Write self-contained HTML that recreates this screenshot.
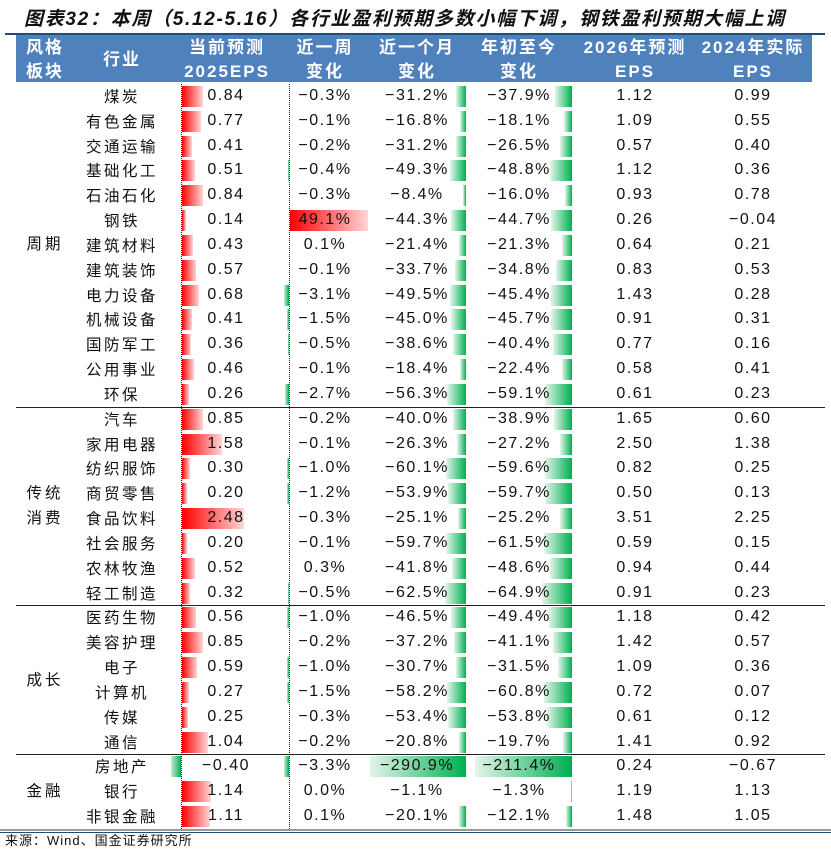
<!DOCTYPE html>
<html><head><meta charset="utf-8">
<style>
body{margin:0;background:#fff;}
#w{position:relative;width:831px;height:853px;overflow:hidden;background:#fff;font-family:"Liberation Sans","Noto Sans CJK SC",sans-serif;color:#111;}
.t{position:absolute;left:24px;top:4px;font-size:19px;font-weight:bold;font-style:italic;letter-spacing:1.7px;white-space:nowrap;}
.tl{position:absolute;left:5px;top:33px;width:820px;height:2px;background:#1f4e79;}
.hd{position:absolute;left:16px;top:35px;width:796px;height:47px;background:#4f81bd;}
.h{position:absolute;color:#fff;font-weight:bold;font-size:17px;line-height:20px;text-align:center;width:140px;letter-spacing:2px;white-space:nowrap;font-family:"Liberation Sans","Noto Sans CJK SC",sans-serif;}
#rows{position:absolute;left:0;top:84px;width:831px;}
.r{position:relative;height:24.83px;}
.r i{position:absolute;top:2px;height:21px;display:block;}
.be{left:182px;width:calc(var(--e)*25px);background:linear-gradient(to right,#ff0000,#ffd6d6);}
.ben{left:171px;width:10px;background:linear-gradient(to right,#c8ecd5,#00b050);}
.bw{right:calc(831px - 289px);width:calc(var(--w)*1.59px);background:linear-gradient(to right,#c8ecd5,#00b050);}
.bwp{left:290px;width:calc(var(--w)*1.59px);background:linear-gradient(to right,#ff0000,#ffd6d6);}
.bm{right:calc(831px - 466px);width:calc(var(--m)*0.33px);background:linear-gradient(to right,#e3f5ea,#00b050);}
.by{right:calc(831px - 572px);width:calc(var(--y)*0.46px);background:linear-gradient(to right,#e3f5ea,#00b050);}
.r span{position:absolute;top:0;line-height:24.83px;font-size:16px;text-align:center;width:120px;white-space:nowrap;letter-spacing:1.5px;}
.r .n{left:62px;font-family:"Noto Sans CJK SC",sans-serif;font-size:15.5px;letter-spacing:2.5px;}
.c1{left:166px}.c2{left:265px}.c3{left:357px}.c4{left:459px}.c5{left:575px}.c6{left:693px}
.dv{position:absolute;top:84px;height:745px;border-left:1px dotted #222;}
.sep{position:absolute;left:16px;width:809px;height:1px;background:#222;}
.st{position:absolute;font-family:"Noto Sans CJK SC",sans-serif;font-size:15.5px;letter-spacing:3px;width:60px;text-align:center;left:15px;}
.src{position:absolute;left:5px;top:830px;font-size:13px;font-family:"Liberation Sans","Noto Sans CJK SC",sans-serif;letter-spacing:1px;}
</style></head><body><div id="w">
<div class="t">图表32：本周（5.12-5.16）各行业盈利预期多数小幅下调，钢铁盈利预期大幅上调</div>
<div class="tl"></div>
<div class="hd"></div>
<div class="h" style="left:-25px;top:38px">风格</div>
<div class="h" style="left:-25px;top:62px">板块</div>
<div class="h" style="left:52px;top:50px">行业</div>
<div class="h" style="left:157px;top:38px">当前预测</div>
<div class="h" style="left:157px;top:62px">2025EPS</div>
<div class="h" style="left:255px;top:38px">近一周</div>
<div class="h" style="left:255px;top:62px">变化</div>
<div class="h" style="left:347px;top:38px">近一个月</div>
<div class="h" style="left:347px;top:62px">变化</div>
<div class="h" style="left:449px;top:38px">年初至今</div>
<div class="h" style="left:449px;top:62px">变化</div>
<div class="h" style="left:565px;top:38px">2026年预测</div>
<div class="h" style="left:565px;top:62px">EPS</div>
<div class="h" style="left:683px;top:38px">2024年实际</div>
<div class="h" style="left:683px;top:62px">EPS</div>

<div id="rows">
<div class="r" style="--e:.84;--w:.3;--m:31.2;--y:37.9"><i class="be"></i><i class="bw"></i><i class="bm"></i><i class="by"></i><span class="n">煤炭</span><span class="c1">0.84</span><span class="c2">−0.3%</span><span class="c3">−31.2%</span><span class="c4">−37.9%</span><span class="c5">1.12</span><span class="c6">0.99</span></div>
<div class="r" style="--e:.77;--w:.1;--m:16.8;--y:18.1"><i class="be"></i><i class="bw"></i><i class="bm"></i><i class="by"></i><span class="n">有色金属</span><span class="c1">0.77</span><span class="c2">−0.1%</span><span class="c3">−16.8%</span><span class="c4">−18.1%</span><span class="c5">1.09</span><span class="c6">0.55</span></div>
<div class="r" style="--e:.41;--w:.2;--m:31.2;--y:26.5"><i class="be"></i><i class="bw"></i><i class="bm"></i><i class="by"></i><span class="n">交通运输</span><span class="c1">0.41</span><span class="c2">−0.2%</span><span class="c3">−31.2%</span><span class="c4">−26.5%</span><span class="c5">0.57</span><span class="c6">0.40</span></div>
<div class="r" style="--e:.51;--w:.4;--m:49.3;--y:48.8"><i class="be"></i><i class="bw"></i><i class="bm"></i><i class="by"></i><span class="n">基础化工</span><span class="c1">0.51</span><span class="c2">−0.4%</span><span class="c3">−49.3%</span><span class="c4">−48.8%</span><span class="c5">1.12</span><span class="c6">0.36</span></div>
<div class="r" style="--e:.84;--w:.3;--m:8.4;--y:16.0"><i class="be"></i><i class="bw"></i><i class="bm"></i><i class="by"></i><span class="n">石油石化</span><span class="c1">0.84</span><span class="c2">−0.3%</span><span class="c3">−8.4%</span><span class="c4">−16.0%</span><span class="c5">0.93</span><span class="c6">0.78</span></div>
<div class="r" style="--e:.14;--w:49.1;--m:44.3;--y:44.7"><i class="be"></i><i class="bwp"></i><i class="bm"></i><i class="by"></i><span class="n">钢铁</span><span class="c1">0.14</span><span class="c2">49.1%</span><span class="c3">−44.3%</span><span class="c4">−44.7%</span><span class="c5">0.26</span><span class="c6">−0.04</span></div>
<div class="r" style="--e:.43;--w:.1;--m:21.4;--y:21.3"><i class="be"></i><i class="bwp"></i><i class="bm"></i><i class="by"></i><span class="n">建筑材料</span><span class="c1">0.43</span><span class="c2">0.1%</span><span class="c3">−21.4%</span><span class="c4">−21.3%</span><span class="c5">0.64</span><span class="c6">0.21</span></div>
<div class="r" style="--e:.57;--w:.1;--m:33.7;--y:34.8"><i class="be"></i><i class="bw"></i><i class="bm"></i><i class="by"></i><span class="n">建筑装饰</span><span class="c1">0.57</span><span class="c2">−0.1%</span><span class="c3">−33.7%</span><span class="c4">−34.8%</span><span class="c5">0.83</span><span class="c6">0.53</span></div>
<div class="r" style="--e:.68;--w:3.1;--m:49.5;--y:45.4"><i class="be"></i><i class="bw"></i><i class="bm"></i><i class="by"></i><span class="n">电力设备</span><span class="c1">0.68</span><span class="c2">−3.1%</span><span class="c3">−49.5%</span><span class="c4">−45.4%</span><span class="c5">1.43</span><span class="c6">0.28</span></div>
<div class="r" style="--e:.41;--w:1.5;--m:45.0;--y:45.7"><i class="be"></i><i class="bw"></i><i class="bm"></i><i class="by"></i><span class="n">机械设备</span><span class="c1">0.41</span><span class="c2">−1.5%</span><span class="c3">−45.0%</span><span class="c4">−45.7%</span><span class="c5">0.91</span><span class="c6">0.31</span></div>
<div class="r" style="--e:.36;--w:.5;--m:38.6;--y:40.4"><i class="be"></i><i class="bw"></i><i class="bm"></i><i class="by"></i><span class="n">国防军工</span><span class="c1">0.36</span><span class="c2">−0.5%</span><span class="c3">−38.6%</span><span class="c4">−40.4%</span><span class="c5">0.77</span><span class="c6">0.16</span></div>
<div class="r" style="--e:.46;--w:.1;--m:18.4;--y:22.4"><i class="be"></i><i class="bw"></i><i class="bm"></i><i class="by"></i><span class="n">公用事业</span><span class="c1">0.46</span><span class="c2">−0.1%</span><span class="c3">−18.4%</span><span class="c4">−22.4%</span><span class="c5">0.58</span><span class="c6">0.41</span></div>
<div class="r" style="--e:.26;--w:2.7;--m:56.3;--y:59.1"><i class="be"></i><i class="bw"></i><i class="bm"></i><i class="by"></i><span class="n">环保</span><span class="c1">0.26</span><span class="c2">−2.7%</span><span class="c3">−56.3%</span><span class="c4">−59.1%</span><span class="c5">0.61</span><span class="c6">0.23</span></div>
<div class="r" style="--e:.85;--w:.2;--m:40.0;--y:38.9"><i class="be"></i><i class="bw"></i><i class="bm"></i><i class="by"></i><span class="n">汽车</span><span class="c1">0.85</span><span class="c2">−0.2%</span><span class="c3">−40.0%</span><span class="c4">−38.9%</span><span class="c5">1.65</span><span class="c6">0.60</span></div>
<div class="r" style="--e:1.58;--w:.1;--m:26.3;--y:27.2"><i class="be"></i><i class="bw"></i><i class="bm"></i><i class="by"></i><span class="n">家用电器</span><span class="c1">1.58</span><span class="c2">−0.1%</span><span class="c3">−26.3%</span><span class="c4">−27.2%</span><span class="c5">2.50</span><span class="c6">1.38</span></div>
<div class="r" style="--e:.30;--w:1.0;--m:60.1;--y:59.6"><i class="be"></i><i class="bw"></i><i class="bm"></i><i class="by"></i><span class="n">纺织服饰</span><span class="c1">0.30</span><span class="c2">−1.0%</span><span class="c3">−60.1%</span><span class="c4">−59.6%</span><span class="c5">0.82</span><span class="c6">0.25</span></div>
<div class="r" style="--e:.20;--w:1.2;--m:53.9;--y:59.7"><i class="be"></i><i class="bw"></i><i class="bm"></i><i class="by"></i><span class="n">商贸零售</span><span class="c1">0.20</span><span class="c2">−1.2%</span><span class="c3">−53.9%</span><span class="c4">−59.7%</span><span class="c5">0.50</span><span class="c6">0.13</span></div>
<div class="r" style="--e:2.48;--w:.3;--m:25.1;--y:25.2"><i class="be"></i><i class="bw"></i><i class="bm"></i><i class="by"></i><span class="n">食品饮料</span><span class="c1">2.48</span><span class="c2">−0.3%</span><span class="c3">−25.1%</span><span class="c4">−25.2%</span><span class="c5">3.51</span><span class="c6">2.25</span></div>
<div class="r" style="--e:.20;--w:.1;--m:59.7;--y:61.5"><i class="be"></i><i class="bw"></i><i class="bm"></i><i class="by"></i><span class="n">社会服务</span><span class="c1">0.20</span><span class="c2">−0.1%</span><span class="c3">−59.7%</span><span class="c4">−61.5%</span><span class="c5">0.59</span><span class="c6">0.15</span></div>
<div class="r" style="--e:.52;--w:.3;--m:41.8;--y:48.6"><i class="be"></i><i class="bwp"></i><i class="bm"></i><i class="by"></i><span class="n">农林牧渔</span><span class="c1">0.52</span><span class="c2">0.3%</span><span class="c3">−41.8%</span><span class="c4">−48.6%</span><span class="c5">0.94</span><span class="c6">0.44</span></div>
<div class="r" style="--e:.32;--w:.5;--m:62.5;--y:64.9"><i class="be"></i><i class="bw"></i><i class="bm"></i><i class="by"></i><span class="n">轻工制造</span><span class="c1">0.32</span><span class="c2">−0.5%</span><span class="c3">−62.5%</span><span class="c4">−64.9%</span><span class="c5">0.91</span><span class="c6">0.23</span></div>
<div class="r" style="--e:.56;--w:1.0;--m:46.5;--y:49.4"><i class="be"></i><i class="bw"></i><i class="bm"></i><i class="by"></i><span class="n">医药生物</span><span class="c1">0.56</span><span class="c2">−1.0%</span><span class="c3">−46.5%</span><span class="c4">−49.4%</span><span class="c5">1.18</span><span class="c6">0.42</span></div>
<div class="r" style="--e:.85;--w:.2;--m:37.2;--y:41.1"><i class="be"></i><i class="bw"></i><i class="bm"></i><i class="by"></i><span class="n">美容护理</span><span class="c1">0.85</span><span class="c2">−0.2%</span><span class="c3">−37.2%</span><span class="c4">−41.1%</span><span class="c5">1.42</span><span class="c6">0.57</span></div>
<div class="r" style="--e:.59;--w:1.0;--m:30.7;--y:31.5"><i class="be"></i><i class="bw"></i><i class="bm"></i><i class="by"></i><span class="n">电子</span><span class="c1">0.59</span><span class="c2">−1.0%</span><span class="c3">−30.7%</span><span class="c4">−31.5%</span><span class="c5">1.09</span><span class="c6">0.36</span></div>
<div class="r" style="--e:.27;--w:1.5;--m:58.2;--y:60.8"><i class="be"></i><i class="bw"></i><i class="bm"></i><i class="by"></i><span class="n">计算机</span><span class="c1">0.27</span><span class="c2">−1.5%</span><span class="c3">−58.2%</span><span class="c4">−60.8%</span><span class="c5">0.72</span><span class="c6">0.07</span></div>
<div class="r" style="--e:.25;--w:.3;--m:53.4;--y:53.8"><i class="be"></i><i class="bw"></i><i class="bm"></i><i class="by"></i><span class="n">传媒</span><span class="c1">0.25</span><span class="c2">−0.3%</span><span class="c3">−53.4%</span><span class="c4">−53.8%</span><span class="c5">0.61</span><span class="c6">0.12</span></div>
<div class="r" style="--e:1.04;--w:.2;--m:20.8;--y:19.7"><i class="be"></i><i class="bw"></i><i class="bm"></i><i class="by"></i><span class="n">通信</span><span class="c1">1.04</span><span class="c2">−0.2%</span><span class="c3">−20.8%</span><span class="c4">−19.7%</span><span class="c5">1.41</span><span class="c6">0.92</span></div>
<div class="r" style="--w:3.3;--m:290.9;--y:211.4"><i class="ben"></i><i class="bw"></i><i class="bm"></i><i class="by"></i><span class="n">房地产</span><span class="c1">−0.40</span><span class="c2">−3.3%</span><span class="c3">−290.9%</span><span class="c4">−211.4%</span><span class="c5">0.24</span><span class="c6">−0.67</span></div>
<div class="r" style="--e:1.14;--w:0;--m:1.1;--y:1.3"><i class="be"></i><i class="bm"></i><i class="by"></i><span class="n">银行</span><span class="c1">1.14</span><span class="c2">0.0%</span><span class="c3">−1.1%</span><span class="c4">−1.3%</span><span class="c5">1.19</span><span class="c6">1.13</span></div>
<div class="r" style="--e:1.11;--w:.1;--m:20.1;--y:12.1"><i class="be"></i><i class="bwp"></i><i class="bm"></i><i class="by"></i><span class="n">非银金融</span><span class="c1">1.11</span><span class="c2">0.1%</span><span class="c3">−20.1%</span><span class="c4">−12.1%</span><span class="c5">1.48</span><span class="c6">1.05</span></div>
</div>

<div class="dv" style="left:181px"></div>
<div class="dv" style="left:289px"></div>
<div class="sep" style="top:407px"></div>
<div class="sep" style="top:605px"></div>
<div class="sep" style="top:754px"></div>
<div class="st" style="top:232px">周期</div>
<div class="st" style="top:481px">传统</div>
<div class="st" style="top:506px">消费</div>
<div class="st" style="top:668px">成长</div>
<div class="st" style="top:779px">金融</div>
<div style="position:absolute;left:0;top:829px;width:831px;height:2px;background:#999"></div>
<div style="position:absolute;left:0;top:832px;width:831px;height:1px;background:#1f4e79"></div>
<div class="src">来源：Wind、国金证券研究所</div>
</div></body></html>
